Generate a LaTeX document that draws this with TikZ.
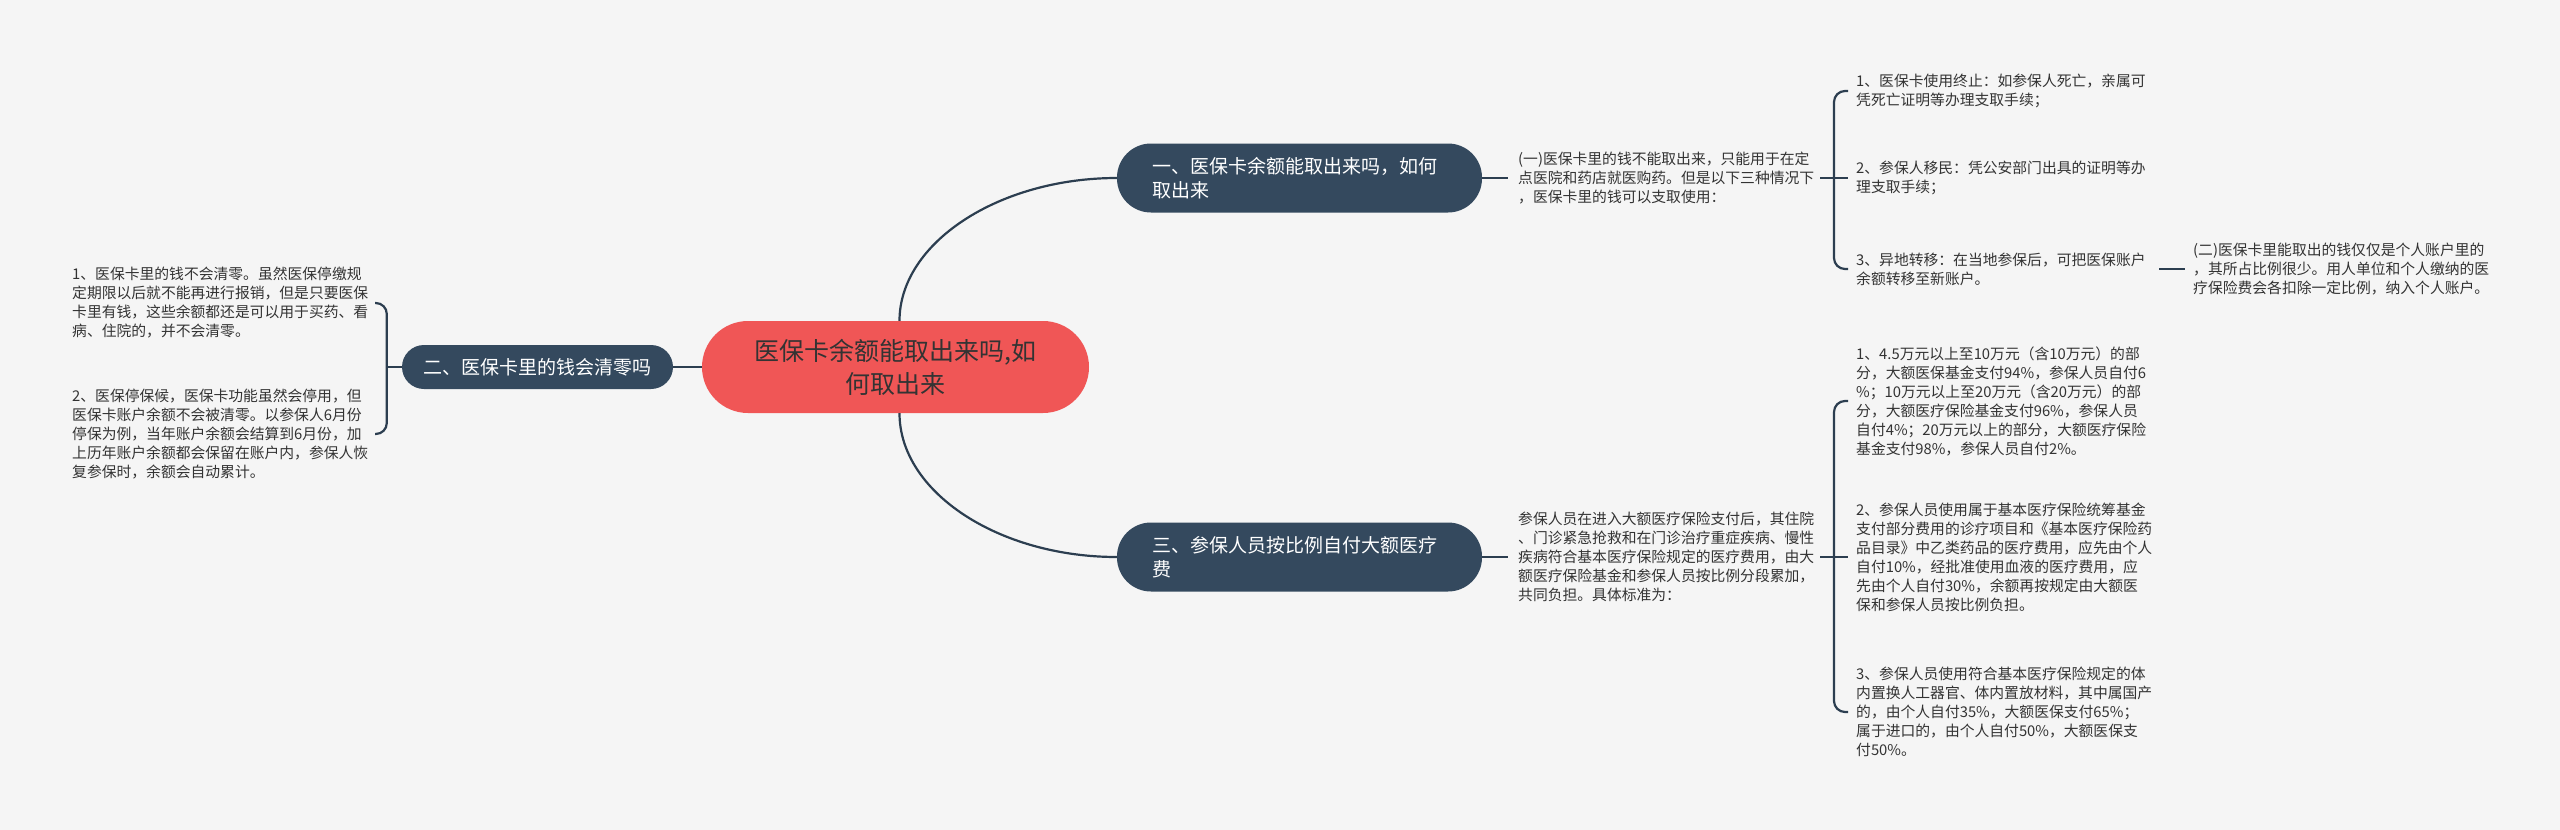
\documentclass[tikz,border=0pt]{standalone}
\usepackage{fontspec}
\setmainfont{Noto Sans CJK SC}
\definecolor{bg}{HTML}{F5F5F5}
\definecolor{navy}{HTML}{34495E}
\definecolor{linec}{HTML}{2C3E50}
\definecolor{redc}{HTML}{F05656}
\definecolor{leaftext}{HTML}{333333}
\tikzset{
  conn/.style={draw=linec, line width=2.2pt},
  leaf/.style={anchor=west, inner sep=0pt, align=left, text=leaftext,
    font=\fontsize{14.8}{19}\selectfont},
  topic/.style={rectangle, rounded corners=34pt, fill=navy, text=white,
    text width=295pt, inner xsep=35pt, inner ysep=0pt, minimum height=69pt,
    align=left, font=\fontsize{19}{24}\selectfont},
  lefttopic/.style={rectangle, rounded corners=22pt, fill=navy, text=white,
    inner xsep=21pt, inner ysep=0pt, minimum height=44pt, minimum width=271pt,
    font=\fontsize{19}{24}\selectfont},
  central/.style={rectangle, rounded corners=46pt, fill=redc, text=leaftext,
    minimum width=387pt, minimum height=92pt, inner sep=0pt, align=center,
    font=\fontsize{25}{33}\selectfont},
}
\begin{document}
\begin{tikzpicture}[x=1pt,y=-1pt]
\fill[bg] (0,0) rectangle (2560,830);
\useasboundingbox (0,0) rectangle (2560,830);

% main nodes
\node[central] (c) at (895.5,367) {医保卡余额能取出来吗,如\\何取出来};
\node[topic] (n1) at (1299.5,178) {一、医保卡余额能取出来吗，如何\\取出来};
\node[topic] (n3) at (1299.5,557) {三、参保人员按比例自付大额医疗\\费};
\node[lefttopic] (n2) at (537.5,367) {二、医保卡里的钱会清零吗};

% left leaves
\node[leaf] (L1) at (72,303) {1、医保卡里的钱不会清零。虽然医保停缴规\\定期限以后就不能再进行报销，但是只要医保\\卡里有钱，这些余额都还是可以用于买药、看\\病、住院的，并不会清零。};
\node[leaf] (L2) at (72,434) {2、医保停保候，医保卡功能虽然会停用，但\\医保卡账户余额不会被清零。以参保人6月份\\停保为例，当年账户余额会结算到6月份，加\\上历年账户余额都会保留在账户内，参保人恢\\复参保时，余额会自动累计。};

% branch one
\node[leaf] (A) at (1518,178) {(一)医保卡里的钱不能取出来，只能用于在定\\点医院和药店就医购药。但是以下三种情况下\\，医保卡里的钱可以支取使用：};
\node[leaf] (A1) at (1856,91) {1、医保卡使用终止：如参保人死亡，亲属可\\凭死亡证明等办理支取手续；};
\node[leaf] (A2) at (1856,178) {2、参保人移民：凭公安部门出具的证明等办\\理支取手续；};
\node[leaf] (A3) at (1856,269) {3、异地转移：在当地参保后，可把医保账户\\余额转移至新账户。};
\node[leaf] (S) at (2193,269) {(二)医保卡里能取出的钱仅仅是个人账户里的\\，其所占比例很少。用人单位和个人缴纳的医\\疗保险费会各扣除一定比例，纳入个人账户。};

% branch three
\node[leaf] (B) at (1518,557) {参保人员在进入大额医疗保险支付后，其住院\\、门诊紧急抢救和在门诊治疗重症疾病、慢性\\疾病符合基本医疗保险规定的医疗费用，由大\\额医疗保险基金和参保人员按比例分段累加，\\共同负担。具体标准为：};
\node[leaf] (B1) at (1856,401) {1、4.5万元以上至10万元（含10万元）的部\\分，大额医保基金支付94\%，参保人员自付6\\\%；10万元以上至20万元（含20万元）的部\\分，大额医疗保险基金支付96\%，参保人员\\自付4\%；20万元以上的部分，大额医疗保险\\基金支付98\%，参保人员自付2\%。};
\node[leaf] (B2) at (1856,557) {2、参保人员使用属于基本医疗保险统筹基金\\支付部分费用的诊疗项目和《基本医疗保险药\\品目录》中乙类药品的医疗费用，应先由个人\\自付10\%，经批准使用血液的医疗费用，应\\先由个人自付30\%，余额再按规定由大额医\\保和参保人员按比例负担。};
\node[leaf] (B3) at (1856,712) {3、参保人员使用符合基本医疗保险规定的体\\内置换人工器官、体内置放材料，其中属国产\\的，由个人自付35\%，大额医保支付65\%；\\属于进口的，由个人自付50\%，大额医保支\\付50\%。};

% bracket coordinates
\coordinate (bL) at ([xshift=-15pt]n2.west);
\coordinate (bA) at ([xshift=-22pt]A2.west);
\coordinate (bB) at ([xshift=-22pt]B2.west);

% connectors
\draw[conn] (c.west) -- (n2.east);
\draw[conn] ([xshift=4pt]c.north) .. controls +(0,-78) and +(-118,0) .. (n1.west);
\draw[conn] ([xshift=4pt]c.south) .. controls +(0,79) and +(-118,0) .. (n3.west);

\draw[conn] (n2.west) -- (bL);
\draw[conn, rounded corners=11pt] ([xshift=303pt]L1.west) -| (bL) |- ([xshift=303pt]L2.west);

\draw[conn] (n1.east) -- ([xshift=-10pt]A.west);
\draw[conn] ([xshift=302pt]A.west) -- (bA);
\draw[conn] (bA) -- ([xshift=-8pt]A2.west);
\draw[conn, rounded corners=11pt] ([xshift=-8pt]A1.west) -| (bA) |- ([xshift=-8pt]A3.west);
\draw[conn] ([xshift=303pt]A3.west) -- ([xshift=-8pt]S.west);

\draw[conn] (n3.east) -- ([xshift=-10pt]B.west);
\draw[conn] ([xshift=302pt]B.west) -- (bB);
\draw[conn] (bB) -- ([xshift=-8pt]B2.west);
\draw[conn, rounded corners=11pt] ([xshift=-8pt]B1.west) -| (bB) |- ([xshift=-8pt]B3.west);
\end{tikzpicture}
\end{document}
